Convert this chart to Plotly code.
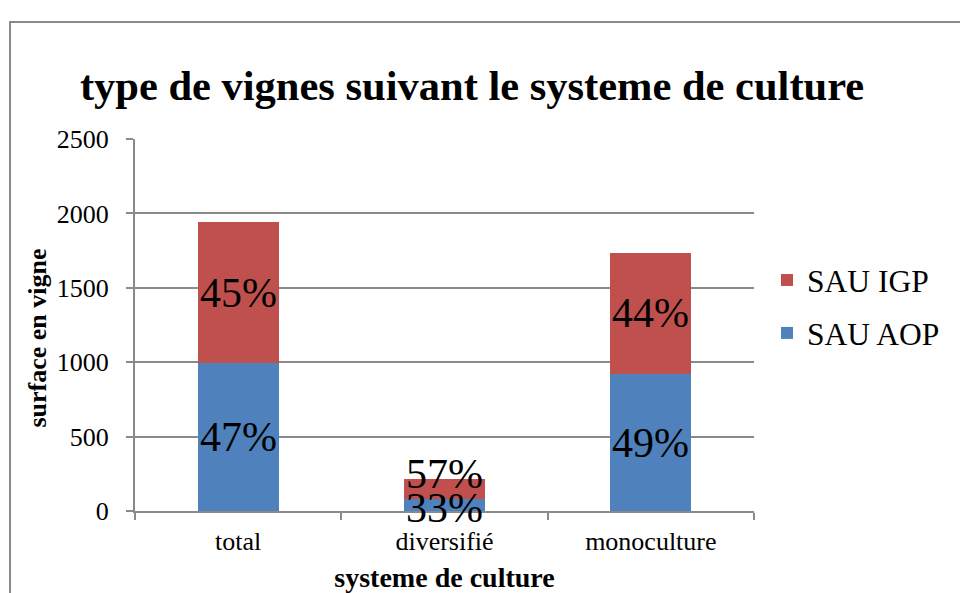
import plotly.graph_objects as go

# Surface en vigne par système de culture (ha), empilée AOP / IGP
categories = ["total", "diversifié", "monoculture"]
sau_aop = [995, 80, 920]
sau_igp = [945, 133, 815]
pct_aop = ["47%", "33%", "49%"]
pct_igp = ["45%", "57%", "44%"]
y_ticks = [0, 500, 1000, 1500, 2000, 2500]

SERIF = "Liberation Serif"
RED = "#C0504D"
BLUE = "#4F81BD"
GRID = "#8A8A8A"

fig = go.Figure()
fig.add_trace(go.Bar(name="SAU AOP", x=categories, y=sau_aop,
                     marker=dict(color=BLUE, line=dict(width=0)),
                     legendgroup="aop", legendrank=2))
fig.add_trace(go.Bar(name="SAU IGP", x=categories, y=sau_igp,
                     marker=dict(color=RED, line=dict(width=0)),
                     legendgroup="igp", legendrank=1))

# percentage labels centred in each segment
label_font = dict(family=SERIF, size=42, color="black")
for i, cat in enumerate(categories):
    a, g = sau_aop[i], sau_igp[i]
    shift_a, shift_g = (0, 0)
    if a + g < 400:  # short stack: spread the two labels apart
        shift_a, shift_g = (-3, 15)
    fig.add_annotation(x=cat, y=a / 2, text=pct_aop[i], showarrow=False,
                       font=label_font, yshift=shift_a)
    fig.add_annotation(x=cat, y=a + g / 2, text=pct_igp[i], showarrow=False,
                       font=label_font, yshift=shift_g)

# y axis title
fig.add_annotation(xref="paper", yref="paper", x=-0.159, y=0.465,
                   xanchor="center", yanchor="middle",
                   text="<b>surface en vigne</b>", textangle=-90,
                   showarrow=False,
                   font=dict(family=SERIF, size=26, color="black"))

# outer chart frame
fig.add_shape(type="rect", xref="paper", yref="paper",
              x0=-0.2019, x1=1.36, y0=-0.26, y1=1.3145,
              line=dict(color=GRID, width=2), fillcolor="rgba(0,0,0,0)",
              layer="below")

fig.update_layout(
    width=960, height=593,
    margin=dict(l=135, r=206, t=139, b=82, autoexpand=False),
    paper_bgcolor="white", plot_bgcolor="white",
    barmode="stack", bargap=0.607,
    font=dict(family=SERIF, color="black"),
    title=dict(text="<b>type de vignes suivant le systeme de culture</b>",
               x=0.4917, xanchor="center", xref="container",
               y=1 - 85 / 593, yanchor="middle", yref="container",
               font=dict(family=SERIF, size=42.5, color="black")),
    legend=dict(x=(767 - 135) / 619, xanchor="left",
                y=(511 - 253) / 372, yanchor="top",
                traceorder="grouped", tracegroupgap=9,
                font=dict(family=SERIF, size=31.5, color="black"),
                bgcolor="rgba(0,0,0,0)", itemwidth=30),
    xaxis=dict(
        automargin=False,
        showline=True, linecolor=GRID, linewidth=2,
        ticks="outside", tickson="boundaries", ticklen=7,
        tickcolor=GRID, tickwidth=2, ticklabelstandoff=6,
        tickfont=dict(family=SERIF, size=26, color="black"),
        title=dict(text="<b>systeme de culture</b>", standoff=14,
                   font=dict(family=SERIF, size=28, color="black")),
    ),
    yaxis=dict(
        automargin=False,
        range=[0, 2500], tickvals=y_ticks,
        showgrid=True, gridcolor=GRID, gridwidth=2,
        showline=True, linecolor=GRID, linewidth=2,
        ticks="outside", ticklen=7, tickcolor=GRID, tickwidth=2,
        ticklabelstandoff=12,
        tickfont=dict(family=SERIF, size=26, color="black"),
        zeroline=False,
    ),
)

fig.write_html("out.html")
